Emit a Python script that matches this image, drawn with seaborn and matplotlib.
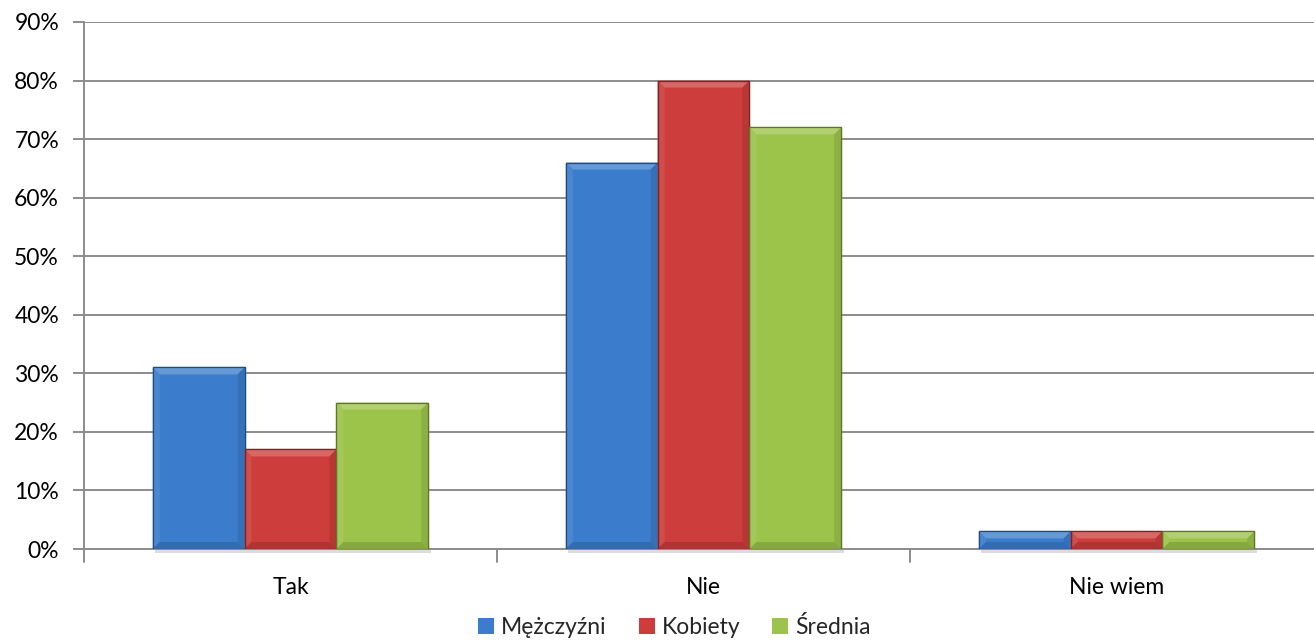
import matplotlib
matplotlib.use("Agg")
import matplotlib.pyplot as plt
from matplotlib.patches import Polygon
import matplotlib.colors as mcolors
import seaborn as sns
import pandas as pd
import numpy as np

categories = ["Tak", "Nie", "Nie wiem"]
series = ["Mężczyźni", "Kobiety", "Średnia"]
men = [31, 66, 3]
women = [17, 80, 3]
average = [25, 72, 3]
yticks = [0, 10, 20, 30, 40, 50, 60, 70, 80, 90]

colors = ["#3B7DCC", "#CC3D3B", "#9CC34A"]

df = pd.DataFrame({
    "cat": categories * 3,
    "series": [s for s in series for _ in categories],
    "value": men + women + average,
})

sns.set_theme(style="white")
plt.rcParams["font.family"] = ["Lato", "DejaVu Sans"]

FS = 16.5

fig = plt.figure(figsize=(13.14, 6.42), dpi=100)
ax = fig.add_axes([84 / 1314, 1 - 549 / 642, 1 - 84 / 1314, (549 - 22) / 642])

sns.barplot(data=df, x="cat", y="value", hue="series", palette=colors,
            width=2 / 3, gap=0, ax=ax, saturation=1, legend=True)

ax.set_ylim(0, 90)
ax.set_xlim(-0.5, 2.478)
ax.set_yticks(yticks)
ax.set_yticklabels([f"{v}%" for v in yticks], fontsize=FS, color="#000000")
ax.set_xticks([0, 1, 2])
ax.set_xticklabels(categories, fontsize=FS, color="#000000")
ax.set_xlabel("")
ax.set_ylabel("")

grid_c = "#8C8C8C"
ax.yaxis.grid(True, color=grid_c, linewidth=1.4, zorder=0)
ax.set_axisbelow(True)
for s in ["top", "right"]:
    ax.spines[s].set_visible(False)
ax.spines["left"].set_color(grid_c)
ax.spines["left"].set_linewidth(1.4)
ax.spines["bottom"].set_color(grid_c)
ax.spines["bottom"].set_linewidth(1.4)
ax.tick_params(axis="y", length=8, width=1.4, color=grid_c, direction="out", pad=10, left=True)
ax.tick_params(axis="x", length=0, pad=20)

# category boundary tick marks on the x axis
for xb in [-0.5, 0.5, 1.5]:
    ax.plot([xb, xb], [0, -2.3], color=grid_c, lw=1.4, clip_on=False, zorder=1)

# soft bevel decoration on each bar
fig.canvas.draw()
inv = ax.transData.inverted()
p0 = inv.transform((0, 0))
p1 = inv.transform((7, 7))
bx, by = p1 - p0

for patch in list(ax.patches):
    h = patch.get_height()
    if h <= 0:
        continue
    x0 = patch.get_x()
    w = patch.get_width()
    y0 = patch.get_y()
    base = np.array(mcolors.to_rgb(patch.get_facecolor()))
    patch.set_edgecolor(tuple(base * 0.6))
    patch.set_linewidth(0.9)
    patch.set_zorder(3)
    b_y = min(by, h / 2.2)
    b_x = min(bx, w / 2.2)
    x1, y1 = x0 + w, y0 + h
    light = tuple(np.clip(base + (1 - base) * 0.22, 0, 1))
    lighter = tuple(np.clip(base + (1 - base) * 0.08, 0, 1))
    dark = tuple(base * 0.9)
    darker = tuple(base * 0.86)
    polys = [
        ([(x0, y1), (x1, y1), (x1 - b_x, y1 - b_y), (x0 + b_x, y1 - b_y)], light),
        ([(x0, y0), (x0, y1), (x0 + b_x, y1 - b_y), (x0 + b_x, y0 + b_y)], lighter),
        ([(x1, y0), (x1, y1), (x1 - b_x, y1 - b_y), (x1 - b_x, y0 + b_y)], dark),
        ([(x0, y0), (x1, y0), (x1 - b_x, y0 + b_y), (x0 + b_x, y0 + b_y)], darker),
    ]
    for pts, c in polys:
        ax.add_patch(Polygon(pts, closed=True, facecolor=c, edgecolor="none", zorder=3.5))
    # outline drawn on top of the bevel
    ax.add_patch(Polygon([(x0, y0), (x1, y0), (x1, y1), (x0, y1)], closed=True,
                         facecolor="none", edgecolor=tuple(base * 0.6), lw=0.9, zorder=3.6))
    # soft shadow under the bar
    ax.add_patch(Polygon([(x0 + b_x * 0.3, y0), (x1 + b_x * 0.4, y0),
                          (x1 + b_x * 0.4, y0 - by * 0.5), (x0 + b_x * 0.3, y0 - by * 0.5)],
                         closed=True, facecolor="#BBBBBB", edgecolor="none",
                         alpha=0.5, zorder=2, clip_on=False))

leg = ax.legend(loc="center", bbox_to_anchor=(0.48, -0.148),
                ncol=3, frameon=False, fontsize=FS, handlelength=0.7, handleheight=0.7,
                handletextpad=0.3, columnspacing=1.4)
for hnd in leg.legend_handles:
    hnd.set_edgecolor("none")

fig.savefig("out.png", dpi=100, facecolor="white")
